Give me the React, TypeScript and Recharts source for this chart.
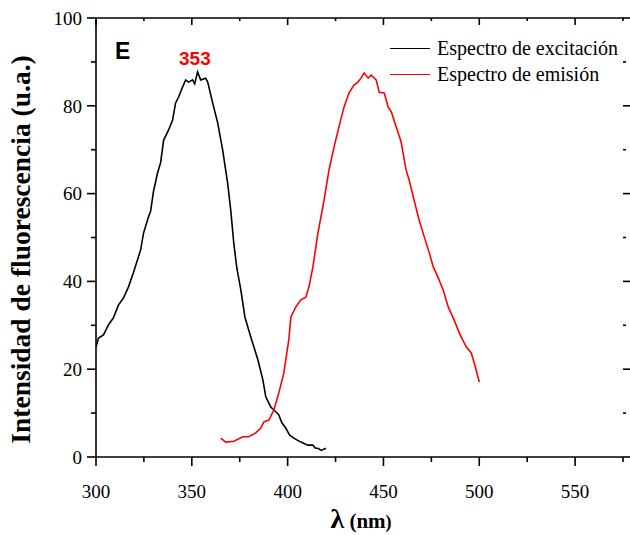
import { LineChart, Line, XAxis, YAxis, ReferenceLine } from "recharts";

// excitation spectrum (black)
const excitationWavelength = [
  300.0, 301.3, 303.9, 306.5, 309.1, 311.7, 314.3, 316.9, 319.6, 323.3, 324.8, 327.4, 328.5, 330.0, 332.1,
  333.7, 335.3, 337.9, 340.0, 341.5, 343.1, 345.2, 346.8, 348.3, 350.4, 351.5, 353.0, 354.6, 357.2, 358.3,
  360.9, 363.5, 366.1, 368.7, 370.3, 371.9, 373.5, 375.6, 377.7, 380.8, 384.5, 387.1, 388.6, 391.2, 393.8,
  395.4, 397.0, 399.0, 401.0, 403.2, 406.9, 410.6, 413.2, 414.5, 415.8, 417.5, 420.0,
];
const excitationIntensity = [
  25.0, 27.1, 27.8, 30.1, 31.7, 34.6, 36.2, 38.7, 42.1, 47.2, 51.0, 54.7, 56.0, 60.5, 64.7,
  67.0, 72.2, 74.5, 76.8, 80.6, 82.0, 84.3, 85.9, 85.4, 85.9, 85.0, 87.7, 85.9, 86.3, 85.4,
  80.6, 76.1, 69.9, 62.4, 56.3, 48.7, 43.0, 38.0, 31.9, 27.3, 22.1, 17.5, 13.7, 11.4, 10.3,
  9.6, 7.8, 6.6, 5.0, 4.3, 3.4, 2.7, 2.7, 2.0, 2.0, 1.5, 2.0,
];

// emission spectrum (red)
const emissionWavelength = [
  365.1, 367.7, 371.9, 376.6, 379.7, 383.4, 386.0, 387.6, 390.2, 392.8, 395.4, 398.0, 400.6, 401.7, 404.3,
  406.9, 409.5, 411.1, 413.2, 415.8, 417.4, 419.0, 421.6, 424.2, 426.8, 429.4, 432.0, 434.6, 436.7, 438.3,
  439.9, 442.0, 443.6, 446.2, 447.8, 450.4, 452.5, 454.1, 457.7, 459.2, 461.8, 463.4, 466.0, 468.6, 470.7,
  473.9, 476.0, 478.6, 481.2, 483.8, 486.4, 489.0, 490.6, 493.2, 495.8, 497.4, 500.0,
];
const emissionIntensity = [
  4.3, 3.4, 3.6, 4.6, 4.6, 5.5, 6.6, 8.0, 8.4, 10.7, 14.6, 19.1, 26.7, 31.9, 34.2,
  35.8, 36.4, 38.7, 43.3, 51.0, 54.7, 58.5, 65.4, 70.6, 75.2, 79.7, 82.9, 84.7, 85.4, 86.3,
  87.5, 86.3, 87.0, 85.9, 83.1, 82.9, 79.7, 78.6, 73.8, 71.8, 65.4, 63.1, 58.5, 54.0, 51.0,
  46.5, 43.3, 40.8, 38.0, 34.2, 31.7, 28.9, 27.3, 25.1, 23.7, 21.4, 17.1,
];

const xMajorTicks = [300, 350, 400, 450, 500, 550];
const xMinorTicks = [325, 375, 425, 475, 525, 575];
const yMajorTicks = [0, 20, 40, 60, 80, 100];
const yMinorTicks = [10, 30, 50, 70, 90];

const seriesNames = ["Espectro de excitación", "Espectro de emisión"];
const seriesColors = ["#000000", "#ff0000"];

const excitation = excitationWavelength.map((x, i) => ({ x, y: excitationIntensity[i] }));
const emission = emissionWavelength.map((x, i) => ({ x, y: emissionIntensity[i] }));

const W = 630;
const H = 535;
const serif = "'Liberation Serif', 'Times New Roman', serif";
const sans = "'Liberation Sans', Arial, sans-serif";

// tick lengths in axis units (1 nm ≈ 1.91 px, 1 u.a. ≈ 4.39 px)
const xUnit = 1.91;
const yUnit = 4.39;
const tickStyle = { stroke: "#000", strokeWidth: 1.6, ifOverflow: "visible" as const };

export default function App() {
  return (
    <div style={{ position: "fixed", left: 0, top: 0, width: W, height: H, background: "#fff" }}>
      <LineChart width={W} height={H} margin={{ top: 18, right: 7, bottom: 0, left: 0 }}>
        <XAxis
          dataKey="x"
          type="number"
          domain={[300, 575]}
          ticks={xMajorTicks}
          interval={0}
          height={78}
          tickSize={9}
          tickMargin={19}
          tickLine={{ stroke: "#000", strokeWidth: 1.6 }}
          axisLine={{ stroke: "#000", strokeWidth: 1.6 }}
          tick={{ fontSize: 19, fontFamily: serif, fill: "#000" }}
          allowDataOverflow
        />
        <YAxis
          type="number"
          domain={[0, 100]}
          ticks={yMajorTicks}
          interval={0}
          width={96}
          tickSize={9}
          tickMargin={5}
          tickLine={{ stroke: "#000", strokeWidth: 1.6 }}
          axisLine={{ stroke: "#000", strokeWidth: 1.6 }}
          tick={{ fontSize: 19, fontFamily: serif, fill: "#000" }}
        />
        <ReferenceLine y={100} stroke="#000" strokeWidth={1.6} ifOverflow="visible" />
        {xMinorTicks.map((v) => (
          <ReferenceLine key={`bm${v}`} segment={[{ x: v, y: 0 }, { x: v, y: -5 / yUnit }]} {...tickStyle} />
        ))}
        {[...xMajorTicks, ...xMinorTicks].map((v) => (
          <ReferenceLine
            key={`t${v}`}
            segment={[{ x: v, y: 100 }, { x: v, y: 100 - (v % 50 === 0 ? 7 : 3) / yUnit }]}
            {...tickStyle}
          />
        ))}
        {yMinorTicks.map((v) => (
          <ReferenceLine key={`lm${v}`} segment={[{ x: 300, y: v }, { x: 300 - 5 / xUnit, y: v }]} {...tickStyle} />
        ))}
        {[...yMajorTicks, ...yMinorTicks].map((v) => (
          <ReferenceLine
            key={`r${v}`}
            segment={[{ x: 575, y: v }, { x: 575 + (v % 20 === 0 ? 7 : 3) / xUnit, y: v }]}
            {...tickStyle}
          />
        ))}
        <Line data={excitation} dataKey="y" name={seriesNames[0]} stroke={seriesColors[0]} strokeWidth={1.6} dot={false} type="linear" isAnimationActive={false} />
        <Line data={emission} dataKey="y" name={seriesNames[1]} stroke={seriesColors[1]} strokeWidth={1.6} dot={false} type="linear" isAnimationActive={false} />
      </LineChart>
      <svg width={W} height={H} style={{ position: "absolute", left: 0, top: 0, pointerEvents: "none" }}>
        <text x={30} y={H / 2 - 18} transform={`rotate(-90 30 ${H / 2 - 18})`} textAnchor="middle" fontSize={27.5} fontWeight="bold" fontFamily={serif} fill="#000">
          Intensidad de fluorescencia (u.a.)
        </text>
        <text x={361} y={528} textAnchor="middle" fontFamily={serif} fontWeight="bold" fill="#000">
          <tspan fontSize={28}>λ</tspan>
          <tspan fontSize={21}> (nm</tspan>
          <tspan fontSize={18}>)</tspan>
        </text>
      </svg>
      <div style={{ position: "absolute", left: 390, top: 35 }}>
        {seriesNames.map((name, i) => (
          <div key={name} style={{ display: "flex", alignItems: "center", height: 26 }}>
            <span style={{ display: "inline-block", width: 40, borderTop: `1.5px solid ${seriesColors[i]}`, marginRight: 7 }} />
            <span style={{ fontFamily: serif, fontSize: 20, color: "#000", whiteSpace: "nowrap" }}>{name}</span>
          </div>
        ))}
      </div>
      <div style={{ position: "absolute", left: 115, top: 38, fontFamily: sans, fontWeight: "bold", fontSize: 23, color: "#000" }}>E</div>
      <div style={{ position: "absolute", left: 179, top: 48, fontFamily: sans, fontWeight: "bold", fontSize: 19, color: "#ff0000" }}>353</div>
    </div>
  );
}
